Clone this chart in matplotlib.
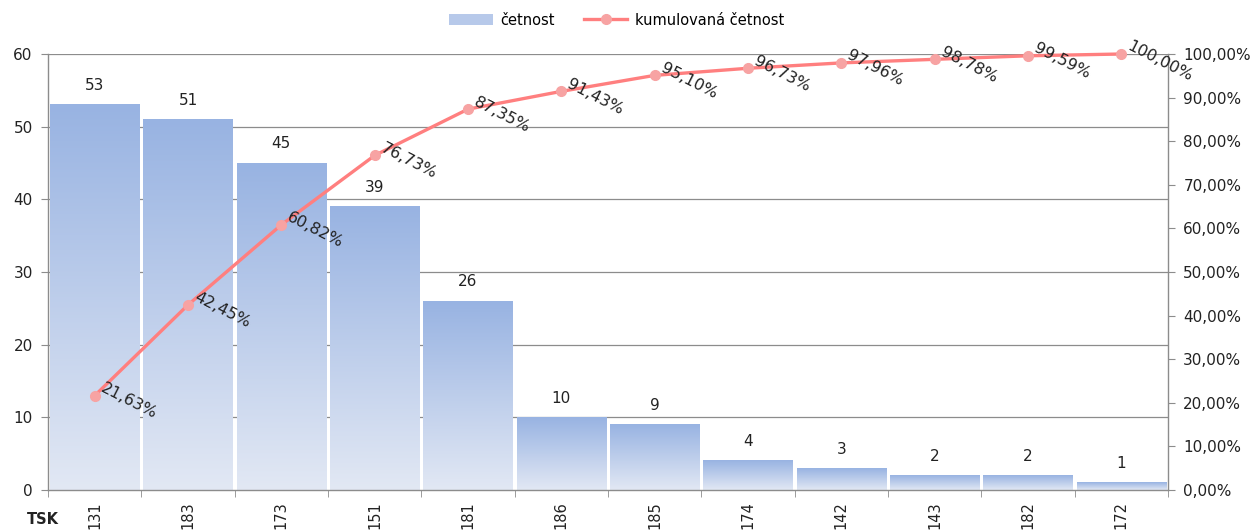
import numpy as np
import matplotlib
matplotlib.use("Agg")
import matplotlib.pyplot as plt
from matplotlib.ticker import FuncFormatter
from matplotlib.colors import LinearSegmentedColormap
from matplotlib.lines import Line2D
from matplotlib.patches import Patch

categories = ["131", "183", "173", "151", "181", "186", "185", "174", "142", "143", "182", "172"]
counts = [53, 51, 45, 39, 26, 10, 9, 4, 3, 2, 2, 1]
cumulative = [21.63, 42.45, 60.82, 76.73, 87.35, 91.43, 95.10, 96.73, 97.96, 98.78, 99.59, 100.00]
left_ticks = [0, 10, 20, 30, 40, 50, 60]
right_ticks = [0, 10, 20, 30, 40, 50, 60, 70, 80, 90, 100]

plt.rcParams['font.family'] = ['DejaVu Sans']
fig = plt.figure(figsize=(12.58, 5.31), dpi=100)
ax = fig.add_axes([48/1258, 1-490/531, (1168-48)/1258, (490-54)/531])
ax2 = ax.twinx()

x = np.arange(len(categories))

grad = LinearSegmentedColormap.from_list("g", ["#e2e8f4", "#98b3e2"])
gimg = np.linspace(0, 1, 256).reshape(-1, 1)
bars = ax.bar(x, counts, width=0.955, color="none", edgecolor="none", zorder=2)
for b, v in zip(bars, counts):
    x0 = b.get_x(); w = b.get_width()
    ax.imshow(gimg, cmap=grad, aspect="auto", origin="lower",
              extent=[x0, x0 + w, 0, v], zorder=2, vmin=0, vmax=1)
    ax.text(x0 + w/2, v + 1.6, str(v), ha="center", va="bottom",
            fontsize=11, color="#222222", zorder=5)
ax.set_xlim(-0.5, len(categories) - 0.5)
ax.set_ylim(0, 60)
ax2.set_ylim(0, 100)

for t in left_ticks[1:]:
    ax.axhline(t, color="#8c8c8c", lw=0.9, zorder=1)

ax.set_yticks(left_ticks)
ax.set_xticks(x)
ax.set_xticklabels(categories, rotation=90, fontsize=10.5, color="#222222", va="top")
ax.tick_params(axis="x", length=0, pad=8)
ax.set_xticks(np.arange(-0.5, len(categories)), minor=True)
ax.tick_params(axis="x", which="minor", length=5, color="#8c8c8c", direction="out")
ax.tick_params(axis="y", length=5, color="#8c8c8c", labelsize=11, labelcolor="#222222", pad=6)

ax.spines["top"].set_visible(False)
ax2.spines["top"].set_visible(False)
ax.spines["right"].set_visible(False)
ax2.spines["left"].set_visible(False)
ax2.spines["bottom"].set_visible(False)
for sp in [ax.spines["left"], ax.spines["bottom"], ax2.spines["right"]]:
    sp.set_color("#8c8c8c")
    sp.set_linewidth(1)

ax2.set_yticks(right_ticks)
ax2.yaxis.set_major_formatter(FuncFormatter(lambda v, p: f"{v:.2f}%".replace(".", ",")))
ax2.tick_params(axis="y", length=5, color="#8c8c8c", labelsize=11, labelcolor="#222222", pad=6)

ax2.plot(x, cumulative, color="#ff7f7f", lw=2.4, marker="o", markersize=7,
         markerfacecolor="#f7a3a3", markeredgecolor="#f7a3a3", zorder=4, clip_on=False)
for xi, c in zip(x, cumulative):
    ax2.annotate(f"{c:.2f}%".replace(".", ","), (xi, c), xytext=(5, 6),
                 textcoords="offset points", rotation=-27, rotation_mode="anchor",
                 ha="left", va="center", fontsize=11.5, color="#222222", zorder=6,
                 annotation_clip=False)

handles = [Patch(facecolor="#b7c9ea", edgecolor="none"),
           Line2D([0], [0], color="#ff7f7f", lw=2.4, marker="o", markersize=7,
                  markerfacecolor="#f7a3a3", markeredgecolor="#f7a3a3")]
fig.legend(handles, ["četnost", "kumulovaná četnost"], loc="center",
           bbox_to_anchor=(0.49, 1-20/531), ncol=2, frameon=False, fontsize=10.5,
           handlelength=3, columnspacing=2, handletextpad=0.5)

fig.text(27/1258, 1-520/531, "TSK", fontsize=10.5, fontweight="bold", color="#222222",
         ha="left", va="center")

fig.savefig("out.png", dpi=100)
